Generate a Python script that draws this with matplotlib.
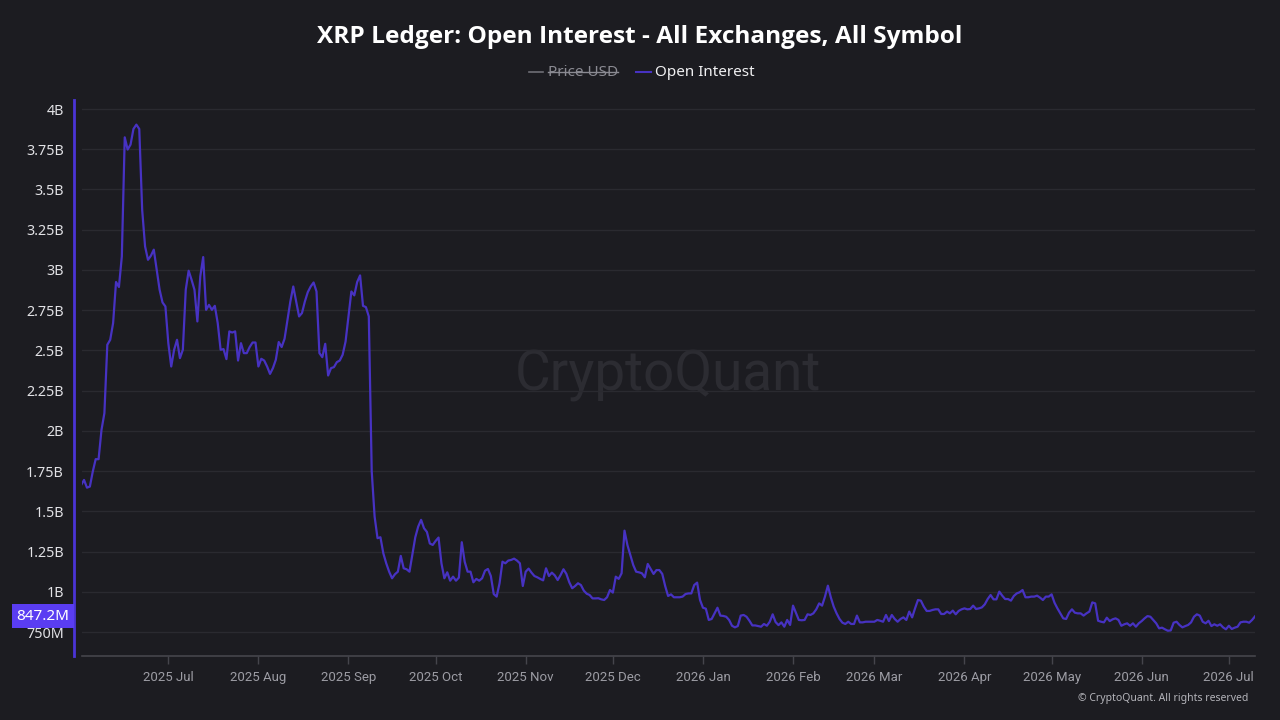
import matplotlib
matplotlib.use('Agg')
import matplotlib.pyplot as plt
import matplotlib.dates as mdates
import matplotlib.transforms as mtransforms
from matplotlib.lines import Line2D
import pandas as pd

# ---------------- data ----------------
start_date = '2025-06-01'
# Open interest, billions USD, one value per day
open_interest_b = [
    1.664, 1.695, 1.647, 1.654, 1.747, 1.824, 1.824, 2.006, 2.110, 2.535,
    2.566, 2.670, 2.925, 2.894, 3.084, 3.824, 3.748, 3.779, 3.876, 3.903,
    3.876, 3.374, 3.146, 3.063, 3.088, 3.126, 3.001, 2.877, 2.798, 2.773,
    2.545, 2.400, 2.504, 2.566, 2.452, 2.504, 2.877, 2.995, 2.939, 2.877,
    2.680, 2.960, 3.080, 2.752, 2.783, 2.752, 2.777, 2.670, 2.504, 2.508,
    2.446, 2.618, 2.611, 2.618, 2.437, 2.545, 2.483, 2.483, 2.521, 2.549,
    2.549, 2.400, 2.448, 2.437, 2.400, 2.354, 2.390, 2.442, 2.552, 2.521,
    2.572, 2.690, 2.804, 2.897, 2.804, 2.711, 2.732, 2.804, 2.862, 2.897,
    2.922, 2.866, 2.483, 2.458, 2.541, 2.344, 2.390, 2.396, 2.427, 2.437,
    2.473, 2.555, 2.711, 2.866, 2.842, 2.925, 2.966, 2.777, 2.769, 2.711,
    1.750, 1.467, 1.333, 1.339, 1.239, 1.177, 1.125, 1.084, 1.109, 1.125,
    1.223, 1.146, 1.140, 1.125, 1.233, 1.339, 1.405, 1.447, 1.395, 1.372,
    1.300, 1.291, 1.316, 1.337, 1.177, 1.084, 1.121, 1.069, 1.094, 1.069,
    1.088, 1.308, 1.187, 1.125, 1.125, 1.059, 1.080, 1.069, 1.084, 1.131,
    1.142, 1.098, 0.986, 0.970, 1.053, 1.187, 1.177, 1.194, 1.198, 1.206,
    1.194, 1.177, 1.036, 1.125, 1.144, 1.119, 1.098, 1.090, 1.080, 1.071,
    1.146, 1.098, 1.119, 1.102, 1.073, 1.104, 1.140, 1.111, 1.059, 1.022,
    1.036, 1.053, 1.042, 1.007, 0.988, 0.980, 0.959, 0.959, 0.960, 0.953,
    0.949, 0.966, 1.011, 0.995, 1.094, 1.080, 1.115, 1.380, 1.291, 1.229,
    1.167, 1.125, 1.121, 1.115, 1.090, 1.173, 1.142, 1.111, 1.135, 1.135,
    1.111, 1.036, 0.974, 0.984, 0.966, 0.966, 0.966, 0.970, 0.986, 0.990,
    0.990, 1.042, 1.057, 0.949, 0.901, 0.895, 0.825, 0.831, 0.866, 0.901,
    0.852, 0.850, 0.845, 0.825, 0.789, 0.779, 0.787, 0.852, 0.856, 0.845,
    0.820, 0.791, 0.791, 0.787, 0.783, 0.800, 0.789, 0.814, 0.860, 0.812,
    0.793, 0.810, 0.783, 0.825, 0.794, 0.914, 0.870, 0.825, 0.823, 0.825,
    0.860, 0.856, 0.866, 0.891, 0.928, 0.914, 0.970, 1.038, 0.966, 0.908,
    0.866, 0.831, 0.808, 0.800, 0.814, 0.800, 0.800, 0.852, 0.810, 0.810,
    0.814, 0.814, 0.814, 0.814, 0.825, 0.820, 0.814, 0.856, 0.818, 0.856,
    0.831, 0.814, 0.831, 0.841, 0.825, 0.877, 0.841, 0.897, 0.949, 0.945,
    0.908, 0.881, 0.881, 0.887, 0.891, 0.891, 0.862, 0.862, 0.877, 0.866,
    0.883, 0.860, 0.881, 0.891, 0.897, 0.891, 0.893, 0.914, 0.893, 0.897,
    0.903, 0.922, 0.955, 0.980, 0.953, 0.953, 1.001, 0.976, 0.955, 0.955,
    0.945, 0.974, 0.990, 0.997, 1.011, 0.966, 0.966, 0.970, 0.970, 0.976,
    0.964, 0.949, 0.970, 0.970, 0.984, 0.932, 0.897, 0.866, 0.835, 0.831,
    0.870, 0.891, 0.870, 0.866, 0.866, 0.852, 0.866, 0.877, 0.934, 0.928,
    0.820, 0.814, 0.810, 0.839, 0.818, 0.829, 0.835, 0.825, 0.789, 0.798,
    0.804, 0.789, 0.804, 0.783, 0.804, 0.818, 0.835, 0.849, 0.845, 0.825,
    0.804, 0.773, 0.777, 0.767, 0.758, 0.760, 0.808, 0.814, 0.794, 0.779,
    0.787, 0.794, 0.810, 0.845, 0.860, 0.852, 0.814, 0.804, 0.820, 0.787,
    0.798, 0.789, 0.798, 0.779, 0.767, 0.789, 0.769, 0.777, 0.783, 0.810,
    0.814, 0.814, 0.808, 0.825, 0.8472,
]
y_ticks_b = [0.75, 1.0, 1.25, 1.5, 1.75, 2.0, 2.25, 2.5, 2.75, 3.0, 3.25, 3.5, 3.75, 4.0]
y_tick_labels = ['750M', '1B', '1.25B', '1.5B', '1.75B', '2B', '2.25B', '2.5B',
                 '2.75B', '3B', '3.25B', '3.5B', '3.75B', '4B']
last_value_label = '847.2M'
title_text = 'XRP Ledger: Open Interest - All Exchanges, All Symbol'
legend_labels = ['Price USD', 'Open Interest']

dates = pd.date_range(start_date, periods=len(open_interest_b), freq='D')

# ---------------- style ----------------
BG = '#1c1c21'
LINE = '#4732c2'
AXIS_PURPLE = '#4b34d6'
BOX = '#5a3df2'
GRID = '#2a2a30'
FONT = ['Noto Sans', 'DejaVu Sans']
plt.rcParams['font.family'] = FONT

W, H = 1280, 720
fig = plt.figure(figsize=(12.8, 7.2), dpi=100, facecolor=BG)
left_px, right_px, top_px, bot_px = 82, 1255, 100, 656
ax = fig.add_axes([left_px / W, 1 - bot_px / H, (right_px - left_px) / W, (bot_px - top_px) / H])
ax.set_facecolor(BG)

ax.plot(dates, open_interest_b, color=LINE, lw=1.6, zorder=3, solid_joinstyle='round')

ax.set_xlim(dates[0] + pd.Timedelta(hours=7), dates[-1])
ax.set_ylim(0.601, 4.056)
ax.set_yticks(y_ticks_b)
ax.set_yticklabels(y_tick_labels)
ax.grid(axis='y', color=GRID, lw=1.0, zorder=0)
ax.grid(axis='x', visible=False)

for s in ['top', 'right']:
    ax.spines[s].set_visible(False)
ax.spines['left'].set_position(('outward', 6))
ax.spines['left'].set_color(AXIS_PURPLE)
ax.spines['left'].set_linewidth(2.0)
ax.spines['bottom'].set_color('#45454c')
ax.spines['bottom'].set_linewidth(1.2)

ax.tick_params(axis='y', length=0, pad=7, labelsize=10.3, labelcolor='#e2e2e6')
ax.xaxis.set_major_locator(mdates.MonthLocator())
ax.xaxis.set_major_formatter(mdates.DateFormatter('%Y %b'))
ax.tick_params(axis='x', length=6, width=1, color='#45454c', pad=5,
               labelsize=9.5, labelcolor='#9c9ca4', labelfontfamily='Roboto')

# watermark
ax.text(668 / W, 1 - 375 / H, 'CryptoQuant', transform=fig.transFigure,
        fontsize=39.5, color='#2c2c32', ha='center', va='center', zorder=1,
        family=['Roboto', 'DejaVu Sans'])

# last value box
trans = mtransforms.blended_transform_factory(fig.transFigure, ax.transData)
fig.text(43 / W, open_interest_b[-1], last_value_label, transform=trans,
         fontsize=11, color='white', ha='center', va='center',
         bbox=dict(boxstyle='square,pad=0.3', facecolor=BOX, edgecolor='none'))

# title
fig.text(640 / W, 1 - 37 / H, title_text, fontsize=17.6, fontweight='bold',
         color='white', ha='center', va='center',
         family=['Open Sans', 'DejaVu Sans'])

# legend (manual)
ly = 1 - 72 / H
fig.add_artist(Line2D([529 / W, 543 / W], [ly, ly], color='#6e6e76', lw=1.2))
t1 = fig.text(548 / W, ly, legend_labels[0], fontsize=11, color='#8a8a92',
              ha='left', va='center')
fig.add_artist(Line2D([636 / W, 651 / W], [ly, ly], color=LINE, lw=1.5))
fig.text(655 / W, ly, legend_labels[1], fontsize=11, color='#f0f0f2',
         ha='left', va='center')
fig.canvas.draw()
bb = t1.get_window_extent(renderer=fig.canvas.get_renderer())
sy = (bb.y0 + bb.y1) / 2 / H
fig.add_artist(Line2D([bb.x0 / W, bb.x1 / W], [sy, sy], color='#8a8a92', lw=1.0))

# copyright
fig.text(1248 / W, 1 - 698 / H, '\u00a9 CryptoQuant. All rights reserved',
         fontsize=7.5, color='#b4b4ba', ha='right', va='center')

fig.savefig('out.png', dpi=100, facecolor=BG)
